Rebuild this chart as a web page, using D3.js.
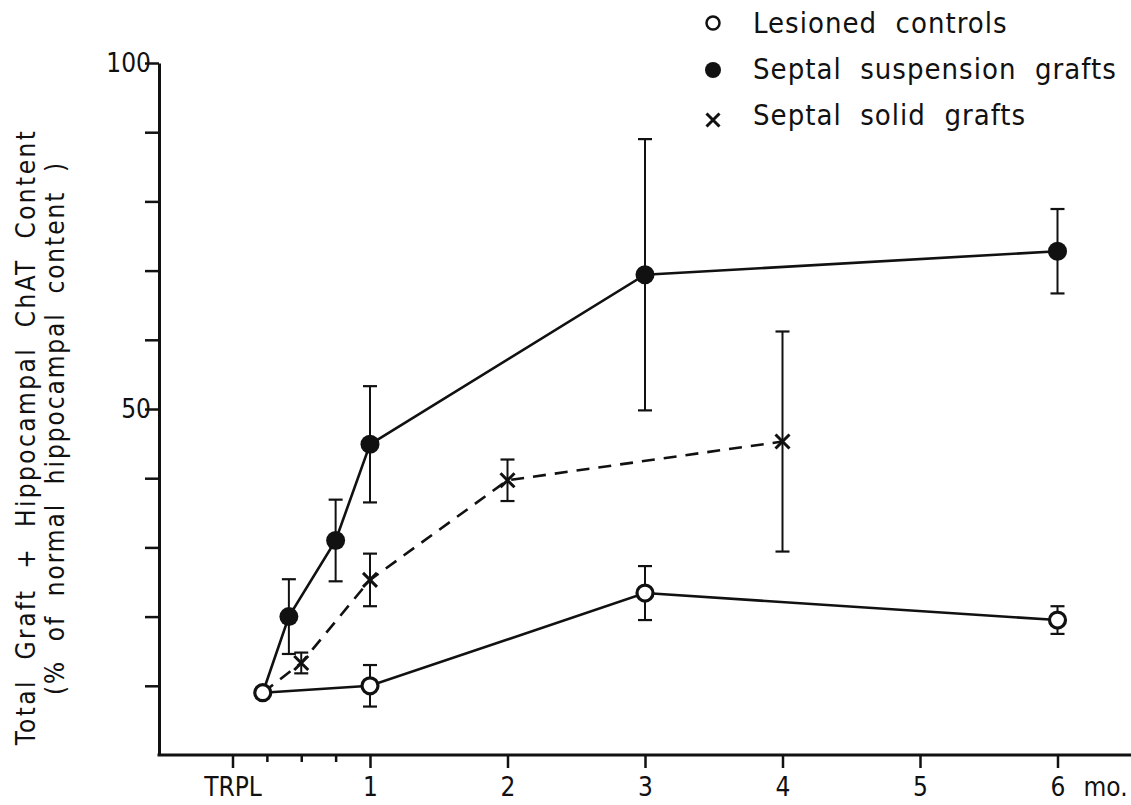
<!DOCTYPE html>
<html>
<head>
<meta charset="utf-8">
<script src="https://cdn.jsdelivr.net/npm/d3@7"></script>
<style>
  body { margin: 0; background: #fff; }
  svg { display: block; }
  text { font-family: "DejaVu Sans Condensed", "DejaVu Sans", sans-serif; fill: #111; }
</style>
</head>
<body>
<svg id="chart"></svg>
<script>
// time after transplantation (months), values in % of normal hippocampal content
const lesionedMonths = [0.22, 1, 3, 6];
const lesionedValues = [9.0, 10.0, 23.4, 19.5];
const lesionedErrors = [0, 3.0, 3.9, 2.0];

const suspensionMonths = [0.22, 0.41, 0.75, 1, 3, 6];
const suspensionValues = [9.0, 20.0, 31.0, 44.9, 69.4, 72.8];
const suspensionErrors = [0, 5.4, 5.9, 8.4, 19.6, 6.1];

const solidMonths = [0.22, 0.5, 1, 2, 4];
const solidValues = [9.0, 13.3, 25.3, 39.7, 45.3];
const solidErrors = [0, 1.5, 3.8, 3.0, 15.9];

const xTickValues = [0, 1, 2, 3, 4, 5, 6];
const xTickLabels = ["TRPL", "1", "2", "3", "4", "5", "6"];
const xMinorTicks = [0.25, 0.5, 0.75];
const yTickValues = [10, 20, 30, 40, 50, 60, 70, 80, 90, 100];
const yTickLabels = { 50: "50", 100: "100" };

const legendLabels = ["Lesioned controls", "Septal suspension grafts", "Septal solid grafts"];
const yTitleLines = ["Total Graft + Hippocampal ChAT Content", "(% of normal hippocampal content )"];

const width = 1131, height = 805;
const axisX = 159, axisY = 755;
const wide = s => s.replace(/ /g, "\u00a0\u00a0");

const svg = d3.select("#chart").attr("width", width).attr("height", height);

const x = d3.scaleLinear().domain([0, 6]).range([232.5, 1057.5]);
const y = d3.scaleLinear().domain([0, 100]).range([axisY, 63]);

// axes
const yAxis = svg.append("g")
    .attr("transform", `translate(${axisX},0)`)
    .call(d3.axisLeft(y).tickValues(yTickValues).tickSize(14).tickSizeOuter(0)
        .tickFormat(d => yTickLabels[d] || ""));
yAxis.select(".domain").attr("stroke-width", 3).attr("stroke", "#111");
yAxis.selectAll(".tick line").attr("stroke-width", 2.5).attr("stroke", "#111");
yAxis.selectAll(".tick text").attr("font-size", 26).attr("x", -8).attr("dy", "0.34em");

svg.append("line")
    .attr("x1", axisX - 1.5).attr("x2", width)
    .attr("y1", axisY).attr("y2", axisY)
    .attr("stroke", "#111").attr("stroke-width", 3);

const xAxis = svg.append("g")
    .attr("transform", `translate(0,${axisY})`)
    .call(d3.axisBottom(x).tickValues(xTickValues).tickSize(13)
        .tickFormat((d, i) => xTickLabels[i]));
xAxis.select(".domain").remove();
xAxis.selectAll(".tick line").attr("stroke-width", 2.5).attr("stroke", "#111");
xAxis.selectAll(".tick text").attr("font-size", 26).attr("y", 19).attr("dy", "0.85em");

const xMinor = svg.append("g")
    .attr("transform", `translate(0,${axisY})`)
    .call(d3.axisBottom(x).tickValues(xMinorTicks).tickSize(7).tickFormat(""));
xMinor.select(".domain").remove();
xMinor.selectAll(".tick line").attr("stroke-width", 2.5).attr("stroke", "#111");

svg.append("text")
    .attr("x", x(6) + 26).attr("y", axisY + 19).attr("dy", "0.85em")
    .attr("font-size", 26).text("mo.");

// y title
const yTitleCentre = [437, 428];
const yTitleSpacing = [2.4, 1.9];
yTitleLines.forEach((line, i) => {
  svg.append("text")
      .attr("transform", `translate(${35 + i * 29},${yTitleCentre[i]}) rotate(-90)`)
      .attr("text-anchor", "middle")
      .attr("font-size", 26)
      .attr("letter-spacing", yTitleSpacing[i])
      .text(wide(line));
});

// series
function drawSeries(months, values, errors, dashed) {
  const pts = months.map((m, i) => ({ m, v: values[i], e: errors[i] }));
  const g = svg.append("g");
  g.append("path")
      .datum(pts)
      .attr("fill", "none")
      .attr("stroke", "#111")
      .attr("stroke-width", 2.6)
      .attr("stroke-dasharray", dashed ? "13,9" : null)
      .attr("d", d3.line().x(d => x(d.m)).y(d => y(d.v)));
  const eb = g.selectAll("g.err").data(pts.filter(d => d.e > 0)).join("g").attr("class", "err");
  eb.append("line")
      .attr("x1", d => x(d.m)).attr("x2", d => x(d.m))
      .attr("y1", d => y(d.v + d.e)).attr("y2", d => y(d.v - d.e))
      .attr("stroke", "#111").attr("stroke-width", 2);
  [1, -1].forEach(s => {
    eb.append("line")
        .attr("x1", d => x(d.m) - 7).attr("x2", d => x(d.m) + 7)
        .attr("y1", d => y(d.v + s * d.e)).attr("y2", d => y(d.v + s * d.e))
        .attr("stroke", "#111").attr("stroke-width", 2.2);
  });
  return { g, pts };
}

function cross(sel, size) {
  sel.append("path")
      .attr("d", `M${-size},${-size}L${size},${size}M${-size},${size}L${size},${-size}`)
      .attr("stroke", "#111").attr("stroke-width", 3).attr("fill", "none");
}

const solid = drawSeries(solidMonths, solidValues, solidErrors, true);
solid.g.selectAll("g.mk").data(solid.pts.slice(1)).join("g").attr("class", "mk")
    .attr("transform", d => `translate(${x(d.m)},${y(d.v)})`)
    .call(cross, 7);

const susp = drawSeries(suspensionMonths, suspensionValues, suspensionErrors, false);
susp.g.selectAll("circle").data(susp.pts.slice(1)).join("circle")
    .attr("cx", d => x(d.m)).attr("cy", d => y(d.v)).attr("r", 9.5)
    .attr("fill", "#111");

const les = drawSeries(lesionedMonths, lesionedValues, lesionedErrors, false);
les.g.selectAll("circle").data(les.pts).join("circle")
    .attr("cx", d => x(d.m)).attr("cy", d => y(d.v)).attr("r", 8)
    .attr("fill", "#fff").attr("stroke", "#111").attr("stroke-width", 3.2);

// legend
const legend = svg.append("g");
const legendY = [23, 70, 116];
legend.append("circle").attr("cx", 713).attr("cy", legendY[0]).attr("r", 6.5)
    .attr("fill", "#fff").attr("stroke", "#111").attr("stroke-width", 2.5);
legend.append("circle").attr("cx", 713).attr("cy", legendY[1]).attr("r", 8).attr("fill", "#111");
legend.append("g").attr("transform", `translate(713,${legendY[2] + 4})`).call(cross, 6.5);
legend.selectAll("text.lab").data(legendLabels).join("text").attr("class", "lab")
    .attr("x", 753).attr("y", (d, i) => [33, 79, 125][i])
    .attr("font-size", 29).attr("letter-spacing", 1)
    .text(d => wide(d));
</script>
</body>
</html>
